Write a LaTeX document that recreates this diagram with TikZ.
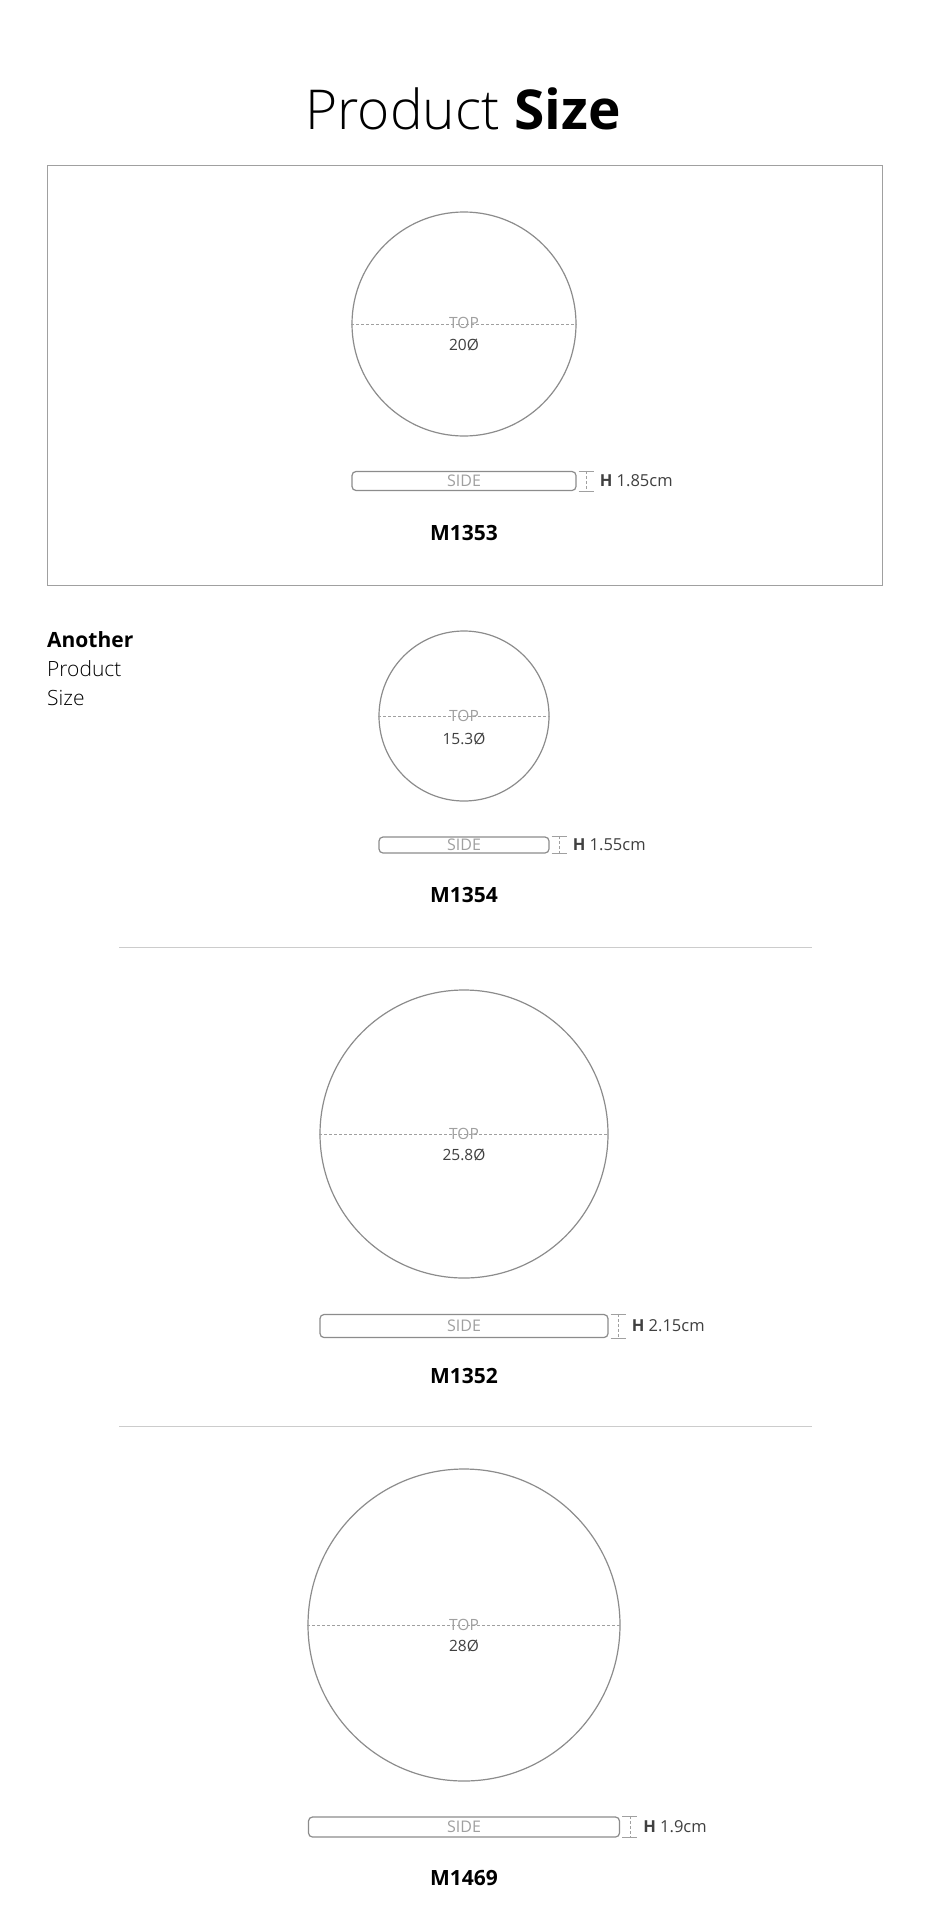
\documentclass[tikz,border=0pt]{standalone}
\usepackage{fontspec}
\setmainfont{Open Sans}
\newfontfamily\lightfont{Open Sans Light}
\definecolor{plategray}{HTML}{8C8C8C}
\definecolor{framegray}{HTML}{A0A0A0}
\definecolor{rulegray}{HTML}{CCCCCC}
\definecolor{labelgray}{HTML}{A0A0A0}
\definecolor{textgray}{HTML}{404040}
\begin{document}
\begin{tikzpicture}[x=1pt,y=-1pt,
  plate/.style={circle,draw=plategray,line width=1.2pt,inner sep=0pt},
  diam/.style={draw=labelgray,line width=.8pt,dash pattern=on 3pt off 2pt},
  sidebar/.style={rectangle,rounded corners=4pt,draw=plategray,line width=1.2pt,inner sep=0pt,text=labelgray,font=\fontsize{16}{16}\selectfont},
  toplabel/.style={text=labelgray,font=\fontsize{15.5}{15.5}\selectfont,inner sep=0pt},
  sizelabel/.style={text=textgray,font=\fontsize{15.5}{15.5}\selectfont,inner sep=0pt},
  hmark/.style={draw=labelgray,line width=.8pt},
  hlabel/.style={anchor=west,text=textgray,font=\fontsize{16.5}{16.5}\selectfont,inner sep=0pt},
  model/.style={font=\bfseries\fontsize{21}{21}\selectfont,inner sep=0pt}]
\useasboundingbox[fill=white] (0,0) rectangle (930,1932);
% Title
\node[anchor=base,inner sep=0pt,font=\fontsize{55}{55}\selectfont] (title) at (463,130) {{\lightfont Product} \textbf{Size}};
% First plate (framed)
\draw[framegray,line width=1pt] (47,165) rectangle (882,585);
\node[plate,minimum size=224pt] (top1) at (464,324) {};
\draw[diam] (top1.west) -- (top1.east);
\node[toplabel] (toptxt1) at (464,323) {TOP};
\node[sizelabel] (dia1) at (464,345) {20Ø};
\node[sidebar,minimum width=224pt,minimum height=19pt] (side1) at (464,481) {SIDE};
\draw[hmark] ([xshift=2pt]side1.north east) -- ++(15,0) ([xshift=2pt]side1.south east) -- ++(15,0);
\draw[diam] ([xshift=10pt]side1.north east) -- ([xshift=10pt]side1.south east);
\node[hlabel] (h1) at ([xshift=23pt]side1.east) {\textbf{H} 1.85cm};
\node[model] (m1) at (464,533) {M1353};
% Side text
\node[anchor=base west,inner sep=0pt,font=\bfseries\fontsize{21}{21}\selectfont] (another) at (47,647) {Another};
\node[anchor=base west,inner sep=0pt,font=\lightfont\fontsize{21}{21}\selectfont] (product) at (47,676) {Product};
\node[anchor=base west,inner sep=0pt,font=\lightfont\fontsize{21}{21}\selectfont] (size) at (47,705) {Size};
% Second plate
\node[plate,minimum size=170pt] (top2) at (464,716) {};
\draw[diam] (top2.west) -- (top2.east);
\node[toplabel] (toptxt2) at (464,716) {TOP};
\node[sizelabel] (dia2) at (464,739) {15.3Ø};
\node[sidebar,minimum width=170pt,minimum height=16pt] (side2) at (464,845) {SIDE};
\draw[hmark] ([xshift=2pt]side2.north east) -- ++(15,0) ([xshift=2pt]side2.south east) -- ++(15,0);
\draw[diam] ([xshift=10pt]side2.north east) -- ([xshift=10pt]side2.south east);
\node[hlabel] (h2) at ([xshift=23pt]side2.east) {\textbf{H} 1.55cm};
\node[model] (m2) at (464,895) {M1354};
\draw[rulegray,line width=1pt] (119,947) -- (812,947);
% Third plate
\node[plate,minimum size=288pt] (top3) at (464,1134) {};
\draw[diam] (top3.west) -- (top3.east);
\node[toplabel] (toptxt3) at (464,1134) {TOP};
\node[sizelabel] (dia3) at (464,1155) {25.8Ø};
\node[sidebar,minimum width=288pt,minimum height=23pt] (side3) at (464,1326) {SIDE};
\draw[hmark] ([xshift=2pt]side3.north east) -- ++(15,0) ([xshift=2pt]side3.south east) -- ++(15,0);
\draw[diam] ([xshift=10pt]side3.north east) -- ([xshift=10pt]side3.south east);
\node[hlabel] (h3) at ([xshift=23pt]side3.east) {\textbf{H} 2.15cm};
\node[model] (m3) at (464,1376) {M1352};
\draw[rulegray,line width=1pt] (119,1426) -- (812,1426);
% Fourth plate
\node[plate,minimum size=312pt] (top4) at (464,1625) {};
\draw[diam] (top4.west) -- (top4.east);
\node[toplabel] (toptxt4) at (464,1625) {TOP};
\node[sizelabel] (dia4) at (464,1646) {28Ø};
\node[sidebar,minimum width=311pt,minimum height=20pt] (side4) at (464,1827) {SIDE};
\draw[hmark] ([xshift=2pt]side4.north east) -- ++(15,0) ([xshift=2pt]side4.south east) -- ++(15,0);
\draw[diam] ([xshift=10pt]side4.north east) -- ([xshift=10pt]side4.south east);
\node[hlabel] (h4) at ([xshift=23pt]side4.east) {\textbf{H} 1.9cm};
\node[model] (m4) at (464,1878) {M1469};
\end{tikzpicture}
\end{document}
